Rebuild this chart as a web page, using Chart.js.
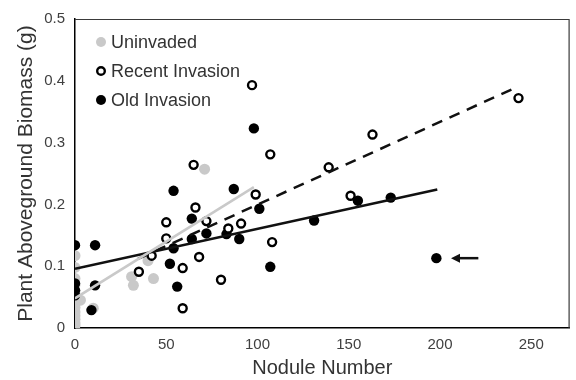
<!DOCTYPE html>
<html>
<head>
<meta charset="utf-8">
<script src="https://cdn.jsdelivr.net/npm/chart.js@4"></script>
<style>
  html, body { margin: 0; padding: 0; background: #fff; }
  #wrap { width: 576px; height: 380px; }
</style>
</head>
<body>
<div id="wrap"><canvas id="nodChart" width="576" height="380"></canvas></div>
<script>
// --- data ---
const seriesNames = ['Uninvaded', 'Recent Invasion', 'Old Invasion'];

const uninvadedX = [0, 0, 0, 0, 0, 0, 0, 0, 0, 0, 0, 0, 0, 3, 10, 31, 32, 40, 43, 71];
const uninvadedY = [0.117, 0.098, 0.08, 0.07, 0.06, 0.05, 0.04, 0.033, 0.026, 0.02, 0.014, 0.008, 0.004,
                    0.045, 0.032, 0.083, 0.069, 0.109, 0.08, 0.257];

const recentX = [35, 42, 50, 50, 59, 59, 65, 66, 68, 72, 80, 84, 91, 97, 99, 107, 108, 139, 151, 163, 243];
const recentY = [0.091, 0.117, 0.171, 0.145, 0.097, 0.032, 0.264, 0.195, 0.115, 0.173, 0.078, 0.161, 0.169,
                 0.393, 0.216, 0.281, 0.139, 0.26, 0.214, 0.313, 0.372];

const oldX = [0, 0, 0, 0, 9, 11, 11, 52, 54, 54, 56, 64, 64, 72, 83, 87, 90, 98, 101, 107, 131, 155, 173, 198];
const oldY = [0.134, 0.072, 0.061, 0.053, 0.029, 0.134, 0.069, 0.104, 0.129, 0.222, 0.067, 0.177, 0.144, 0.153,
              0.152, 0.225, 0.144, 0.323, 0.193, 0.099, 0.174, 0.206, 0.211, 0.113];

// trend lines (end points as drawn)
const uninvadedFitX = [0, 98];
const uninvadedFitY = [0.048, 0.228];
const recentFitX = [34.5, 243];
const recentFitY = [0.112, 0.391];
const oldFitX = [0, 198.5];
const oldFitY = [0.096, 0.224];

// arrow pointing at the outlier
const arrowX = [221, 206];
const arrowY = [0.113, 0.113];

const xTicks = [0, 50, 100, 150, 200, 250];
const yTicks = [0, 0.1, 0.2, 0.3, 0.4, 0.5];

const pts = (xs, ys) => xs.map((x, i) => ({ x: x, y: ys[i] }));

const grey = '#c9c9c9';
const fontFam = '"Liberation Sans", Arial, sans-serif';

// --- legend drawn inside the plot, box around plot, arrow ---
const extras = {
  id: 'extras',
  afterDatasetsDraw(chart) {
    const c = chart.ctx, a = chart.chartArea;
    const xs = chart.scales.x, ys = chart.scales.y;
    c.save();
    // top & right frame
    c.strokeStyle = '#3a3a3a';
    c.lineWidth = 1.2;
    c.beginPath();
    c.moveTo(a.left, a.top + 0.5);
    c.lineTo(a.right - 0.5, a.top + 0.5);
    c.lineTo(a.right - 0.5, a.bottom);
    c.stroke();

    // arrow
    const x0 = xs.getPixelForValue(arrowX[0]), x1 = xs.getPixelForValue(arrowX[1]);
    const y0 = ys.getPixelForValue(arrowY[0]);
    c.strokeStyle = '#111';
    c.fillStyle = '#111';
    c.lineWidth = 2.5;
    c.beginPath();
    c.moveTo(x0, y0);
    c.lineTo(x1 + 6, y0);
    c.stroke();
    c.beginPath();
    c.moveTo(x1, y0);
    c.lineTo(x1 + 9, y0 - 4.5);
    c.lineTo(x1 + 9, y0 + 4.5);
    c.closePath();
    c.fill();

    // legend
    const lx = 101, ly = [42, 71, 100];
    c.font = '18px ' + fontFam;
    c.textBaseline = 'middle';
    seriesNames.forEach((name, i) => {
      c.beginPath();
      c.arc(lx, ly[i], i === 1 ? 3.8 : 5, 0, Math.PI * 2);
      if (i === 0) { c.fillStyle = grey; c.fill(); }
      else if (i === 1) { c.fillStyle = '#fff'; c.fill(); c.lineWidth = 2.4; c.strokeStyle = '#000'; c.stroke(); }
      else { c.fillStyle = '#000'; c.fill(); }
      c.fillStyle = '#333';
      c.fillText(name, 111, ly[i] + 1);
    });
    c.restore();
  }
};

new Chart(document.getElementById('nodChart'), {
  type: 'scatter',
  data: {
    datasets: [
      { label: 'Uninvaded fit', data: pts(uninvadedFitX, uninvadedFitY), showLine: true, pointRadius: 0,
        borderColor: grey, borderWidth: 2.5, order: 0 },
      { label: 'Recent fit', data: pts(recentFitX, recentFitY), showLine: true, pointRadius: 0,
        borderColor: '#111', borderWidth: 2.5, borderDash: [11, 8], order: 0 },
      { label: 'Old fit', data: pts(oldFitX, oldFitY), showLine: true, pointRadius: 0,
        borderColor: '#111', borderWidth: 2.5, order: 0 },
      { label: seriesNames[0], data: pts(uninvadedX, uninvadedY), pointRadius: 5.5,
        pointBackgroundColor: grey, pointBorderWidth: 0, order: 3 },
      { label: seriesNames[2], data: pts(oldX, oldY), pointRadius: 5.2,
        pointBackgroundColor: '#000', pointBorderColor: '#000', pointBorderWidth: 0, order: 2 },
      { label: seriesNames[1], data: pts(recentX, recentY), pointRadius: 4,
        pointBackgroundColor: '#fff', pointBorderColor: '#000', pointBorderWidth: 2.4, order: 1 }
    ]
  },
  options: {
    responsive: false,
    animation: false,
    events: [],
    layout: { padding: { left: 0, right: 5, top: 14, bottom: 0 } },
    plugins: { legend: { display: false }, tooltip: { enabled: false } },
    scales: {
      x: {
        type: 'linear', min: 0, max: 271,
        afterFit: s => { s.height = 52; },
        afterBuildTicks: s => { s.ticks = xTicks.map(v => ({ value: v })); },
        grid: { display: false, drawTicks: false },
        border: { display: true, color: '#000', width: 1.5 },
        ticks: { padding: 8, color: '#404040', font: { family: fontFam, size: 15 } },
        title: { display: true, text: 'Nodule Number', color: '#333', padding: { top: 0, bottom: 0 },
                 font: { family: fontFam, size: 20 } }
      },
      y: {
        type: 'linear', min: 0, max: 0.5,
        afterFit: s => { s.width = 75; },
        afterBuildTicks: s => { s.ticks = yTicks.map(v => ({ value: v })); },
        grid: { display: false, drawTicks: false },
        border: { display: true, color: '#000', width: 1.5 },
        ticks: { padding: 10, color: '#404040', font: { family: fontFam, size: 15 },
                 callback: v => String(v) },
        title: { display: true, text: 'Plant Aboveground Biomass (g)', color: '#333',
                 padding: { top: 14, bottom: 0 }, font: { family: fontFam, size: 21 } }
      }
    }
  },
  plugins: [extras]
});
</script>
</body>
</html>
